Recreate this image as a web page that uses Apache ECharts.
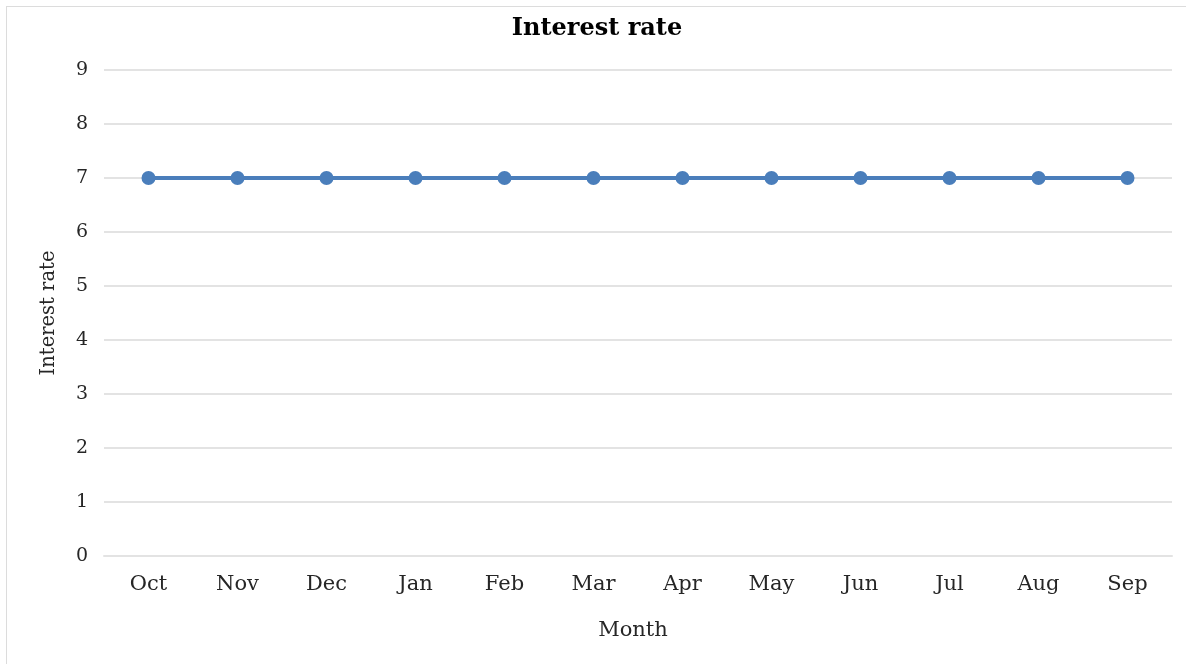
<!DOCTYPE html>
<html>
<head>
<meta charset="utf-8">
<script src="https://cdn.jsdelivr.net/npm/echarts@6/dist/echarts.min.js"></script>
<style>
  html, body { margin: 0; padding: 0; background: #fff; }
  #frame { position: absolute; left: 6px; top: 6px; width: 1186px; height: 664px;
           border-left: 1px solid #dcdcdc; border-top: 1px solid #dcdcdc; box-sizing: border-box; }
  #chart { position: absolute; left: 0; top: 0; width: 1186px; height: 664px; }
</style>
</head>
<body>
<div id="frame"></div>
<div id="chart"></div>
<script>
// Monthly interest rate, October through September
const months = ['Oct', 'Nov', 'Dec', 'Jan', 'Feb', 'Mar', 'Apr', 'May', 'Jun', 'Jul', 'Aug', 'Sep'];
const interestRate = [7, 7, 7, 7, 7, 7, 7, 7, 7, 7, 7, 7];
const yTicks = [0, 1, 2, 3, 4, 5, 6, 7, 8, 9];

const serif = '"DejaVu Serif", "Liberation Serif", serif';
const textColor = '#262626';
const chart = echarts.init(document.getElementById('chart'), null, { renderer: 'canvas' });

chart.setOption({
  animation: false,
  title: {
    text: 'Interest rate',
    left: 592,
    textAlign: 'center',
    top: 12,
    textStyle: { fontFamily: serif, fontWeight: 'bold', fontSize: 24, color: '#000' }
  },
  grid: { left: 104, right: 14, top: 70, bottom: 108, containLabel: false },
  xAxis: {
    type: 'category',
    data: months,
    boundaryGap: true,
    name: 'Month',
    nameLocation: 'middle',
    nameGap: 64,
    nameTextStyle: { fontFamily: serif, fontSize: 21, color: textColor, padding: [0, 10, 0, 0] },
    axisLine: { show: true, lineStyle: { color: '#e3e3e3', width: 2 } },
    axisTick: { show: false },
    axisLabel: { fontFamily: serif, fontSize: 21, color: textColor, margin: 18 }
  },
  yAxis: {
    type: 'value',
    min: yTicks[0],
    max: yTicks[yTicks.length - 1],
    interval: 1,
    name: 'Interest rate',
    nameLocation: 'middle',
    nameGap: 45,
    nameTextStyle: { fontFamily: serif, fontSize: 19.5, color: textColor },
    axisLine: { show: false },
    axisTick: { show: false },
    splitLine: { lineStyle: { color: '#e3e3e3', width: 2 } },
    axisLabel: { fontFamily: serif, fontSize: 19, color: textColor, margin: 16 }
  },
  series: [{
    type: 'line',
    data: interestRate,
    symbol: 'circle',
    symbolSize: 14,
    lineStyle: { color: '#4a7ebb', width: 4 },
    itemStyle: { color: '#4a7ebb' }
  }]
});
</script>
</body>
</html>
